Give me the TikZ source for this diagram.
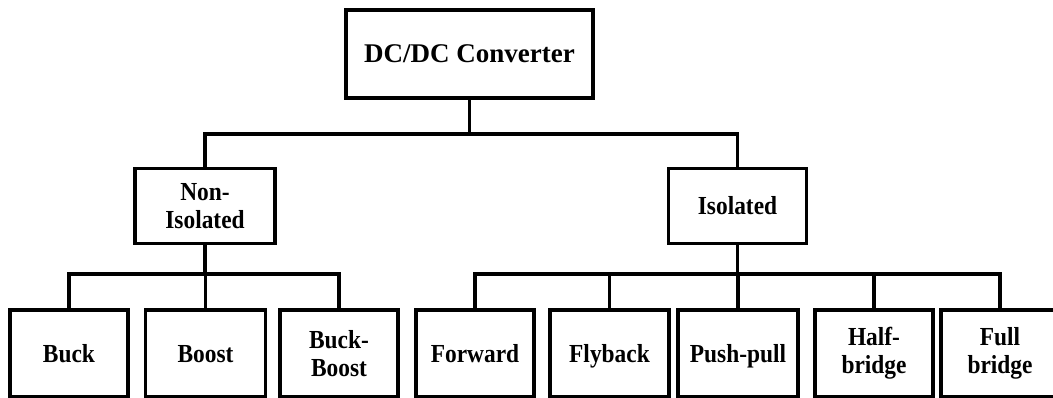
\documentclass[tikz,border=0pt]{standalone}
\usepackage{fontspec}
\setmainfont{Liberation Serif}
\newfontfamily\narrowserif{Liberation Serif}[FakeStretch=0.9]
\begin{document}
\begin{tikzpicture}[x=1pt,y=-1pt,
  box/.style={draw=black, line width=3.5pt, fill=white, inner sep=0pt, outer sep=0pt,
    align=center, font=\narrowserif\bfseries\fontsize{26}{28}\selectfont},
  oneline/.style={text height=17pt, text depth=0pt},
  leaf/.style={box, minimum width=118pt, minimum height=87pt},
  wire/.style={draw=black, line width=3.2pt, line cap=rect, line join=miter}]
\useasboundingbox (0,0) rectangle (1053,398);
% nodes
\node[box, oneline, minimum width=247pt, minimum height=88pt, text height=18pt, text depth=1pt,
  font=\bfseries\fontsize{27}{30}\selectfont] (root) at (469.5,54) {DC/DC Converter};
\node[box, minimum width=140pt, minimum height=75pt] (noniso) at (205,206) {Non-\\Isolated};
\node[box, oneline, minimum width=138pt, minimum height=75pt] (iso) at (737.5,206) {Isolated};
\node[leaf, oneline] (buck) at (69,353.5) {Buck};
\node[leaf, oneline, minimum width=120pt] (boost) at (205.5,353.5) {Boost};
\node[leaf] (bb) at (339,353.5) {Buck-\\Boost};
\node[leaf, oneline] (fwd) at (475,353.5) {Forward};
\node[leaf, oneline, minimum width=119pt] (fly) at (609.5,353.5) {Flyback};
\node[leaf, oneline, minimum width=120pt] (pp) at (738,353.5) {Push-pull};
\node[leaf] (hb) at (874,353.5) {Half-\\bridge};
\node[leaf] (fb) at (1000,353.5) {Full\\bridge};
% bus points
\coordinate (bus1) at (469.5,134);
\coordinate (bus2) at (205,274);
\coordinate (bus3) at (737.5,274);
% connectors
\draw[wire] (root.south) -- (bus1);
\draw[wire] (noniso.north) |- (bus1) -| (iso.north);
\draw[wire] (noniso.south) -- (bus2);
\draw[wire] (buck.north) |- (bus2) -| (bb.north);
\draw[wire] (boost.north) -- (boost.north |- bus2);
\draw[wire] (iso.south) -- (bus3);
\draw[wire] (fwd.north) |- (bus3) -| (fb.north);
\draw[wire] (fly.north) -- (fly.north |- bus3);
\draw[wire] (pp.north) -- (pp.north |- bus3);
\draw[wire] (hb.north) -- (hb.north |- bus3);
\end{tikzpicture}
\end{document}
